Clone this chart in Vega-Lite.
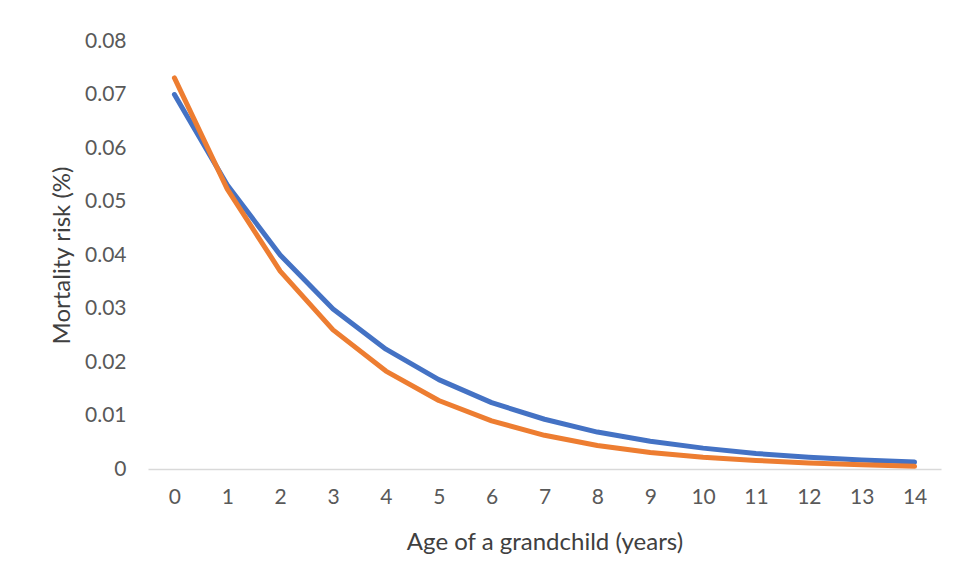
{
  "$schema": "https://vega.github.io/schema/vega-lite/v6.json",
  "width": 793,
  "height": 428,
  "autosize": {"type": "none"},
  "padding": {"left": 148, "top": 41, "right": 16, "bottom": 111},
  "background": "white",
  "config": {
    "view": {"stroke": null},
    "font": "Lato"
  },
  "data": {
    "values": [
      {"age": 0, "series": "A", "risk": 0.0700},
      {"age": 1, "series": "A", "risk": 0.0531},
      {"age": 2, "series": "A", "risk": 0.0400},
      {"age": 3, "series": "A", "risk": 0.0299},
      {"age": 4, "series": "A", "risk": 0.0224},
      {"age": 5, "series": "A", "risk": 0.0167},
      {"age": 6, "series": "A", "risk": 0.0124},
      {"age": 7, "series": "A", "risk": 0.0093},
      {"age": 8, "series": "A", "risk": 0.0069},
      {"age": 9, "series": "A", "risk": 0.0052},
      {"age": 10, "series": "A", "risk": 0.0039},
      {"age": 11, "series": "A", "risk": 0.0029},
      {"age": 12, "series": "A", "risk": 0.0022},
      {"age": 13, "series": "A", "risk": 0.0017},
      {"age": 14, "series": "A", "risk": 0.0013},
      {"age": 0, "series": "B", "risk": 0.0731},
      {"age": 1, "series": "B", "risk": 0.0523},
      {"age": 2, "series": "B", "risk": 0.0370},
      {"age": 3, "series": "B", "risk": 0.0260},
      {"age": 4, "series": "B", "risk": 0.0183},
      {"age": 5, "series": "B", "risk": 0.0128},
      {"age": 6, "series": "B", "risk": 0.0090},
      {"age": 7, "series": "B", "risk": 0.0063},
      {"age": 8, "series": "B", "risk": 0.0044},
      {"age": 9, "series": "B", "risk": 0.0031},
      {"age": 10, "series": "B", "risk": 0.0022},
      {"age": 11, "series": "B", "risk": 0.0016},
      {"age": 12, "series": "B", "risk": 0.0011},
      {"age": 13, "series": "B", "risk": 0.0008},
      {"age": 14, "series": "B", "risk": 0.0005}
    ]
  },
  "mark": {"type": "line", "strokeWidth": 5, "strokeCap": "round", "strokeJoin": "round"},
  "encoding": {
    "x": {
      "field": "age",
      "type": "ordinal",
      "sort": null,
      "scale": {"type": "point", "padding": 0.5},
      "axis": {
        "title": "Age of a grandchild (years)",
        "titleFont": "Lato",
        "titleFontSize": 24,
        "titleFontWeight": "normal",
        "titleColor": "#404040",
        "titlePadding": 23,
        "labelAngle": 0,
        "labelFont": "Lato",
        "labelFontSize": 21,
        "labelColor": "#595959",
        "labelPadding": 17,
        "ticks": false,
        "domainColor": "#d9d9d9",
        "domainWidth": 1.5,
        "grid": false
      }
    },
    "y": {
      "field": "risk",
      "type": "quantitative",
      "scale": {"domain": [0, 0.08], "nice": false},
      "axis": {
        "title": "Mortality risk (%)",
        "titleFont": "Lato",
        "titleFontSize": 24,
        "titleFontWeight": "normal",
        "titleColor": "#404040",
        "titlePadding": 10,
        "values": [0, 0.01, 0.02, 0.03, 0.04, 0.05, 0.06, 0.07, 0.08],
        "labelExpr": "datum.value == 0 ? '0' : format(datum.value, '.2f')",
        "labelFont": "Lato",
        "labelFontSize": 21,
        "labelColor": "#595959",
        "labelPadding": 22,
        "ticks": false,
        "domain": false,
        "grid": false
      }
    },
    "color": {
      "field": "series",
      "type": "nominal",
      "scale": {"domain": ["A", "B"], "range": ["#4472C4", "#ED7D31"]},
      "legend": null
    }
  }
}
